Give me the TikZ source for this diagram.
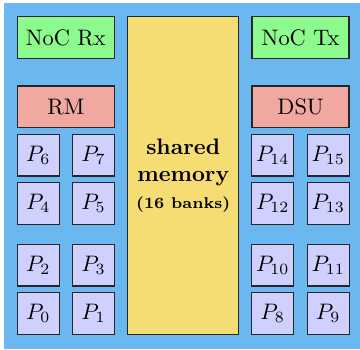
\documentclass[tikz,border=0pt]{standalone}
\def\px{0.4464pt}
\definecolor{bgblue}{RGB}{107,183,240}
\definecolor{noc}{RGB}{140,250,140}
\definecolor{rmred}{RGB}{240,168,160}
\definecolor{pcol}{RGB}{208,208,255}
\definecolor{memy}{RGB}{245,220,115}
\tikzset{
  blk/.style={draw=black!85, line width=0.55pt, inner sep=0pt, anchor=center},
  pbox/.style={blk, fill=pcol, minimum width=42*\px, minimum height=41.7*\px},
  wide/.style={blk, minimum width=97*\px, minimum height=41.6*\px},
}
\begin{document}
\begin{tikzpicture}[x=\px,y=-\px]
\useasboundingbox (0,0) rectangle (360,350);
\fill[bgblue] (4,3) rectangle (360,349);
\node[wide, fill=noc] (rx) at (65.8,37.5) {NoC Rx};
\node[wide, fill=noc] (tx) at (300.6,37.5) {NoC Tx};
\node[wide, fill=rmred] (rm) at (65.8,106.7) {RM};
\node[wide, fill=rmred] (dsu) at (300.6,106.7) {DSU};
\node[blk, fill=memy, minimum width=111*\px, minimum height=317.6*\px, align=center] (mem) at (183.2,175.5)
  {\textbf{shared}\\\textbf{memory}\\{\scriptsize\bfseries (16 banks)}};
\node[pbox] (p6) at (38.3,155.2) {$P_6$};
\node[pbox] (p7) at (93.5,155.2) {$P_7$};
\node[pbox] (p4) at (38.3,203.3) {$P_4$};
\node[pbox] (p5) at (93.5,203.3) {$P_5$};
\node[pbox] (p2) at (38.3,265.2) {$P_2$};
\node[pbox] (p3) at (93.5,265.2) {$P_3$};
\node[pbox] (p0) at (38.3,313.5) {$P_0$};
\node[pbox] (p1) at (93.5,313.5) {$P_1$};
\node[pbox] (p14) at (272.7,155.2) {$P_{14}$};
\node[pbox] (p15) at (328.2,155.2) {$P_{15}$};
\node[pbox] (p12) at (272.7,203.3) {$P_{12}$};
\node[pbox] (p13) at (328.2,203.3) {$P_{13}$};
\node[pbox] (p10) at (272.7,265.2) {$P_{10}$};
\node[pbox] (p11) at (328.2,265.2) {$P_{11}$};
\node[pbox] (p8) at (272.7,313.5) {$P_8$};
\node[pbox] (p9) at (328.2,313.5) {$P_9$};
\end{tikzpicture}
\end{document}
